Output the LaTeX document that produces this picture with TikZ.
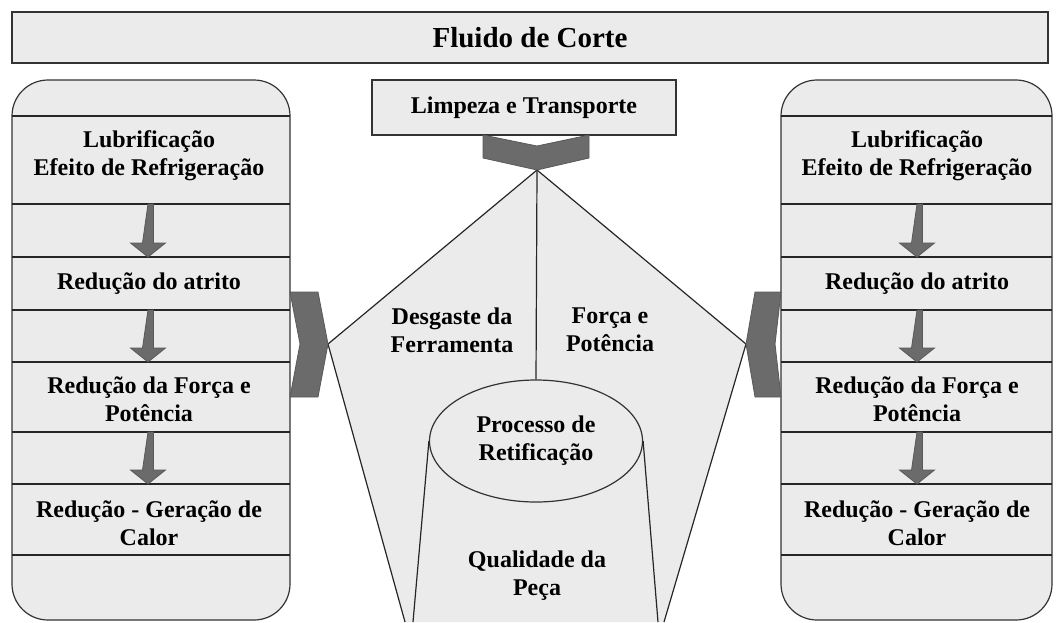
\documentclass[tikz,border=0pt]{standalone}
\usepackage{fontspec}
\setmainfont{Liberation Serif}
\usetikzlibrary{shapes.geometric}

\tikzset{
  panelfill/.style={draw=black!80, fill=black!8, line width=0.6pt},
  darkblock/.style={draw=black!65, fill=black!58, line width=0.4pt},
  thinline/.style={draw=black!85, line width=0.6pt},
  bodytext/.style={font=\fontsize{12}{14}\selectfont\bfseries, align=center, inner sep=0pt},
  titletext/.style={font=\fontsize{14.5}{17}\selectfont\bfseries, inner sep=0pt},
}

\begin{document}
\begin{tikzpicture}[x=0.5pt,y=-0.5pt]
\useasboundingbox (0,0) rectangle (1058,622);

% Drawing title bar
\draw[panelfill] (12,12) rectangle (1048,63);
\node[titletext] (fluido) at (530,37.5) {Fluido de Corte};

% Drawing central region
\coordinate (apex) at (537,170);
\coordinate (tipL) at (328,344);
\coordinate (tipR) at (746,344);
\coordinate (footL) at (405,622);
\coordinate (footR) at (664,622);
\fill[black!8] (apex) -- (tipL) -- (footL) -- (footR) -- (tipR) -- cycle;
\draw[thinline] (tipL) -- (apex) -- (tipR);
\draw[thinline] (tipL) -- (footL);
\draw[thinline] (tipR) -- (footR);

% Marking ellipse Processo de Retificacao
\node[ellipse, panelfill, minimum width=106.5pt, minimum height=61pt, inner sep=0pt, bodytext] (processo) at (536,441) {Processo de\\Retificação};
\coordinate (cylL) at (413,622);
\coordinate (cylR) at (658,622);
\draw[thinline] (apex) -- (processo.north);
\draw[thinline] (processo.west) -- (cylL);
\draw[thinline] (processo.east) -- (cylR);

% Marking central texts
\node[bodytext] (desgaste) at (452,330) {Desgaste da\\Ferramenta};
\node[bodytext] (forca) at (610,330) {Força e\\Potência};
\node[bodytext] (qualidade) at (537,576) {Qualidade da\\Peça};

% Drawing box Limpeza e Transporte
\node[rectangle, panelfill, minimum width=152pt, minimum height=27.5pt, bodytext] (limpeza) at (524,107.5) {Limpeza e Transporte};
\filldraw[darkblock] (483,135) -- (537,146) -- (589,135) -- (589,158) -- (apex) -- (483,158) -- cycle;

% Drawing left panel
\draw[panelfill, rounded corners=18pt] (12,80) rectangle (290,620);
\draw[thinline] (12,116) -- (290,116);
\draw[thinline] (12,204) -- (290,204);
\draw[thinline] (12,257) -- (290,257);
\draw[thinline] (12,310) -- (290,310);
\draw[thinline] (12,362) -- (290,362);
\draw[thinline] (12,432) -- (290,432);
\draw[thinline] (12,484) -- (290,484);
\draw[thinline] (12,555) -- (290,555);
\node[bodytext] (lubL) at (149,156) {Lubrificação\\Efeito de Refrigeração};
\node[bodytext] (atritoL) at (149,283.5) {Redução do atrito};
\node[bodytext] (forcaL) at (149,399) {Redução da Força e\\Potência};
\node[bodytext] (calorL) at (149,523) {Redução - Geração de\\Calor};
\filldraw[darkblock] (148,204) -- ++(5.5,0) -- ++(0,39) -- ++(12,0) -- ++(-17.5,14) -- ++(-17.5,-14) -- ++(12,0) -- cycle;
\filldraw[darkblock] (148,310) -- ++(5.5,0) -- ++(0,38) -- ++(12,0) -- ++(-17.5,14) -- ++(-17.5,-14) -- ++(12,0) -- cycle;
\filldraw[darkblock] (148,432) -- ++(5.5,0) -- ++(0,38) -- ++(12,0) -- ++(-17.5,14) -- ++(-17.5,-14) -- ++(12,0) -- cycle;
\filldraw[darkblock] (290,292) -- (318,292) -- (tipL) -- (318,397) -- (290,397) -- (300,344) -- cycle;

% Drawing right panel
\draw[panelfill, rounded corners=18pt] (781,80) rectangle (1052,620);
\draw[thinline] (781,116) -- (1052,116);
\draw[thinline] (781,204) -- (1052,204);
\draw[thinline] (781,257) -- (1052,257);
\draw[thinline] (781,310) -- (1052,310);
\draw[thinline] (781,362) -- (1052,362);
\draw[thinline] (781,432) -- (1052,432);
\draw[thinline] (781,484) -- (1052,484);
\draw[thinline] (781,555) -- (1052,555);
\node[bodytext] (lubR) at (917,156) {Lubrificação\\Efeito de Refrigeração};
\node[bodytext] (atritoR) at (917,283.5) {Redução do atrito};
\node[bodytext] (forcaR) at (917,399) {Redução da Força e\\Potência};
\node[bodytext] (calorR) at (917,523) {Redução - Geração de\\Calor};
\filldraw[darkblock] (917,204) -- ++(5.5,0) -- ++(0,39) -- ++(12,0) -- ++(-17.5,14) -- ++(-17.5,-14) -- ++(12,0) -- cycle;
\filldraw[darkblock] (917,310) -- ++(5.5,0) -- ++(0,38) -- ++(12,0) -- ++(-17.5,14) -- ++(-17.5,-14) -- ++(12,0) -- cycle;
\filldraw[darkblock] (917,432) -- ++(5.5,0) -- ++(0,38) -- ++(12,0) -- ++(-17.5,14) -- ++(-17.5,-14) -- ++(12,0) -- cycle;
\filldraw[darkblock] (781,292) -- (755,292) -- (tipR) -- (755,397) -- (781,397) -- (775,344) -- cycle;
\end{tikzpicture}
\end{document}
